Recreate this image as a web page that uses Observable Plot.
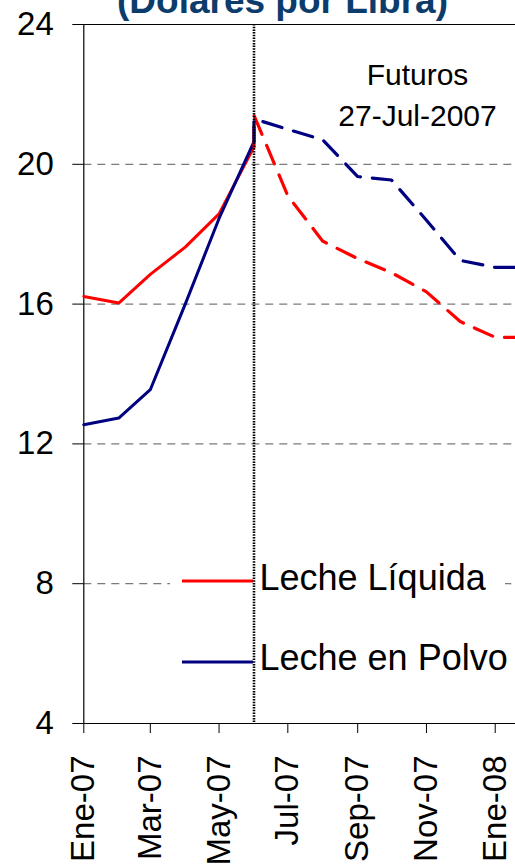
<!DOCTYPE html>
<html><head><meta charset="utf-8">
<script src="https://cdn.jsdelivr.net/npm/d3@7"></script>
<script src="https://cdn.jsdelivr.net/npm/@observablehq/plot@0.6"></script>
<style>
html,body{margin:0;padding:0;background:#fff;overflow:hidden;}
#wrap{position:relative;width:515px;height:867px;font-family:"Liberation Sans",Arial,sans-serif;color:#000;}
#title{position:absolute;left:282.5px;top:-18px;transform:translateX(-50%);white-space:nowrap;font-weight:bold;font-size:37px;line-height:37px;color:#0c3c6c;}
.note{position:absolute;left:417.5px;transform:translateX(-50%);white-space:nowrap;font-size:30px;line-height:30px;}
</style></head><body>
<div id="wrap">
  <div id="chart"></div>
  <div id="title">(Dólares por Libra)</div>
  <div class="note" style="top:59.6px">Futuros</div>
  <div class="note" style="top:100.6px">27-Jul-2007</div>
</div>
<script>
// Historical monthly prices (USD per pound)
const histMonths = ["2007-01-01","2007-02-01","2007-03-01","2007-04-01","2007-05-01","2007-06-01"];
const liquidaHist = [16.22, 16.03, 16.85, 17.63, 18.58, 20.5];
const polvoHist   = [12.55, 12.74, 13.55, 16.0, 18.45, 20.65];
// Futures as of 27-Jul-2007
const futMonths = ["2007-06-01","2007-07-01","2007-08-01","2007-09-01","2007-10-01","2007-11-01","2007-12-01","2008-01-01","2008-02-01"];
const liquidaFut = [21.4, 19.1, 17.8, 17.3, 16.9, 16.35, 15.5, 15.05, 15.05];
const polvoFut   = [21.3, 21.0, 20.7, 19.65, 19.55, 18.4, 17.25, 17.05, 17.05];
// Axis ticks
const yTicks = [4, 8, 12, 16, 20, 24];
const yGrid = [8, 12, 16, 20];
const xTickMonths = ["2007-01-01","2007-03-01","2007-05-01","2007-07-01","2007-09-01","2007-11-01","2008-01-01"];
const xTickLabels = ["Ene-07","Mar-07","May-07","Jul-07","Sep-07","Nov-07","Ene-08"];
const xDomain = ["2007-01-01","2008-01-19"];
// Series
const seriesNames = ["Leche Líquida","Leche en Polvo"];
const seriesColors = ["#ff0000","#000080"];

const parse = s => new Date(s + "T00:00:00Z");
const hist = [];
const fut = [];
[liquidaHist, polvoHist].forEach((vals, s) => {
  vals.forEach((v, i) => hist.push({date: parse(histMonths[i]), value: v, series: seriesNames[s]}));
});
[liquidaFut, polvoFut].forEach((vals, s) => {
  const h = s === 0 ? liquidaHist : polvoHist;
  fut.push({date: parse(histMonths[histMonths.length - 1]), value: h[h.length - 1], series: seriesNames[s]});
  vals.forEach((v, i) => fut.push({date: parse(futMonths[i]), value: v, series: seriesNames[s]}));
});
const xTicks = xTickMonths.map(parse);
const labelMap = new Map(xTicks.map((d, i) => [+d, xTickLabels[i]]));
const split = parse(histMonths[histMonths.length - 1]);

const chart = Plot.plot({
  width: 515,
  height: 867,
  marginLeft: 83.3,
  marginRight: 0,
  marginTop: 24,
  marginBottom: 144,
  style: {fontFamily: '"Liberation Sans", Arial, sans-serif', color: "#000", background: "#fff", overflow: "visible"},
  x: {type: "utc", domain: xDomain.map(parse)},
  y: {domain: [4, 24]},
  color: {domain: seriesNames, range: seriesColors},
  marks: [
    Plot.gridY(yGrid, {stroke: "#7a7a7a", strokeOpacity: 1, strokeWidth: 1.3, strokeDasharray: "8,6"}),
    Plot.ruleY([yTicks[0], yTicks[yTicks.length - 1]], {stroke: "#000", strokeWidth: 1.2}),
    Plot.ruleX([parse(histMonths[0])], {stroke: "#000", strokeWidth: 1.2}),
    Plot.line(hist, {x: "date", y: "value", z: "series", stroke: "series", strokeWidth: 3}),
    Plot.line(fut, {x: "date", y: "value", z: "series", stroke: "series", strokeWidth: 3.2, strokeDasharray: "20,12", clip: true}),
    Plot.axisY(yTicks, {tickSize: 11, tickPadding: 19, fontSize: 33, label: null, stroke: "#000"}),
    Plot.axisX(xTicks, {tickSize: 10, tickPadding: 22, tickRotate: -90, fontSize: 33, label: null,
      tickFormat: d => labelMap.get(+d), stroke: "#000"}),
    Plot.ruleX([split], {stroke: "#000", strokeWidth: 2.6, strokeDasharray: "1.5,1.2"})
  ]
});
document.getElementById("chart").appendChild(chart);

// In-chart legend (white box) placed beneath the dotted separator line
const lg = document.createElementNS("http://www.w3.org/2000/svg", "g");
chart.insertBefore(lg, chart.lastChild);
const g = d3.select(lg).attr("text-anchor", "start");
g.append("rect").attr("x", 170).attr("y", 548).attr("width", 335).attr("height", 149).attr("fill", "#fff");
const legendLineY = [581, 662];
const legendTextY = [590, 670];
seriesNames.forEach((name, i) => {
  g.append("line").attr("x1", 182).attr("x2", 253).attr("y1", legendLineY[i]).attr("y2", legendLineY[i])
    .attr("stroke", seriesColors[i]).attr("stroke-width", 3);
  g.append("text").attr("x", 259.5).attr("y", legendTextY[i]).attr("font-size", 36).attr("fill", "#000")
    .attr("text-anchor", "start").text(name);
});
</script>
</body></html>
